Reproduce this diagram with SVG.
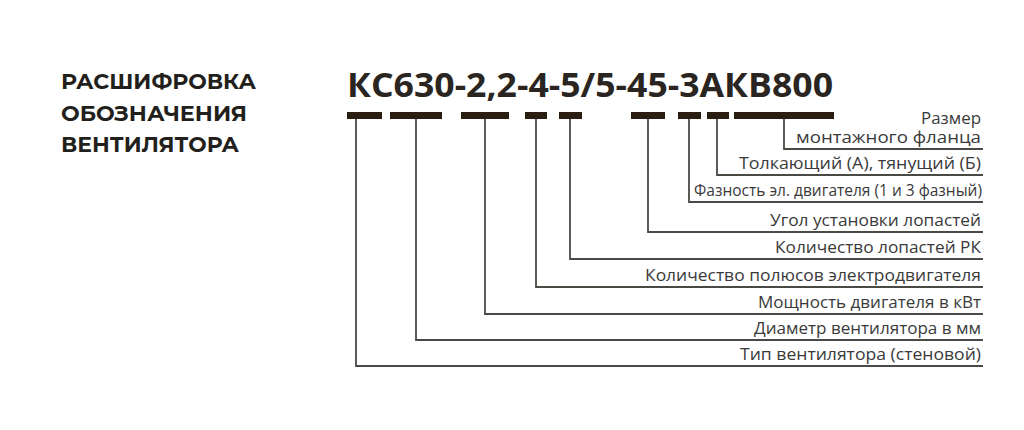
<svg xmlns="http://www.w3.org/2000/svg" width="1024" height="430" viewBox="0 0 1024 430">
<style>
.head{font-family:"Montserrat","Lato","Liberation Sans",sans-serif;font-weight:bold;font-size:21px;fill:#231f1c}
.code{font-family:"Open Sans","Liberation Sans",sans-serif;font-weight:bold;font-size:34px;fill:#2a2520}
.lbl{font-family:"Open Sans","Liberation Sans",sans-serif;font-size:15.5px;fill:#3a3a3a;text-anchor:end}
.bar{fill:#2a1d12}
.ln{fill:none;stroke:#4a4a45;stroke-width:1.8}
</style>
<rect width="1024" height="430" fill="#ffffff"/>
<g id="title">
<text class="head" x="61" y="89" textLength="195" lengthAdjust="spacingAndGlyphs">РАСШИФРОВКА</text>
<text class="head" x="61" y="121" textLength="186" lengthAdjust="spacingAndGlyphs">ОБОЗНАЧЕНИЯ</text>
<text class="head" x="61" y="152" textLength="178" lengthAdjust="spacingAndGlyphs">ВЕНТИЛЯТОРА</text>
</g>
<g id="code">
<text class="code" x="347" y="97" textLength="486" lengthAdjust="spacingAndGlyphs">КС630-2,2-4-5/5-45-3АКВ800</text>
</g>
<g id="bars">
<rect class="bar" x="347" y="112" width="35" height="7"/>
<rect class="bar" x="390" y="112" width="52" height="7"/>
<rect class="bar" x="461" y="112" width="48" height="7"/>
<rect class="bar" x="525" y="112" width="22" height="7"/>
<rect class="bar" x="559" y="112" width="23" height="7"/>
<rect class="bar" x="631" y="112" width="34" height="7"/>
<rect class="bar" x="678" y="112" width="23" height="7"/>
<rect class="bar" x="707" y="112" width="22" height="7"/>
<rect class="bar" x="734" y="112" width="100" height="7"/>
</g>
<g id="connectors">
<polyline class="ln" points="356,119 356,366 983,366"/>
<polyline class="ln" points="416,119 416,340 983,340"/>
<polyline class="ln" points="485,119 485,314 983,314"/>
<polyline class="ln" points="536,119 536,287 983,287"/>
<polyline class="ln" points="570,119 570,259 983,259"/>
<polyline class="ln" points="648,119 648,232 983,232"/>
<polyline class="ln" points="689,119 689,202 983,202"/>
<polyline class="ln" points="717,119 717,175 983,175"/>
<polyline class="ln" points="784,119 784,149 983,149"/>
</g>
<g id="label-flange">
<text class="lbl" x="981" y="124" textLength="60" lengthAdjust="spacingAndGlyphs">Размер</text>
<text class="lbl" x="981" y="143" textLength="185" lengthAdjust="spacingAndGlyphs">монтажного фланца</text>
</g>
<g id="label-push"><text class="lbl" x="981" y="169" textLength="242" lengthAdjust="spacingAndGlyphs">Толкающий (А), тянущий (Б)</text></g>
<g id="label-phase"><text class="lbl" x="982" y="196" textLength="288" lengthAdjust="spacingAndGlyphs">Фазность эл. двигателя (1 и 3 фазный)</text></g>
<g id="label-angle"><text class="lbl" x="981" y="226" textLength="211" lengthAdjust="spacingAndGlyphs">Угол установки лопастей</text></g>
<g id="label-blades"><text class="lbl" x="981" y="253" textLength="206" lengthAdjust="spacingAndGlyphs">Количество лопастей РК</text></g>
<g id="label-poles"><text class="lbl" x="981" y="281" textLength="336" lengthAdjust="spacingAndGlyphs">Количество полюсов электродвигателя</text></g>
<g id="label-power"><text class="lbl" x="981" y="308" textLength="223" lengthAdjust="spacingAndGlyphs">Мощность двигателя в кВт</text></g>
<g id="label-diam"><text class="lbl" x="981" y="334" textLength="227" lengthAdjust="spacingAndGlyphs">Диаметр вентилятора в мм</text></g>
<g id="label-type"><text class="lbl" x="981" y="360" textLength="241" lengthAdjust="spacingAndGlyphs">Тип вентилятора (стеновой)</text></g>
</svg>
